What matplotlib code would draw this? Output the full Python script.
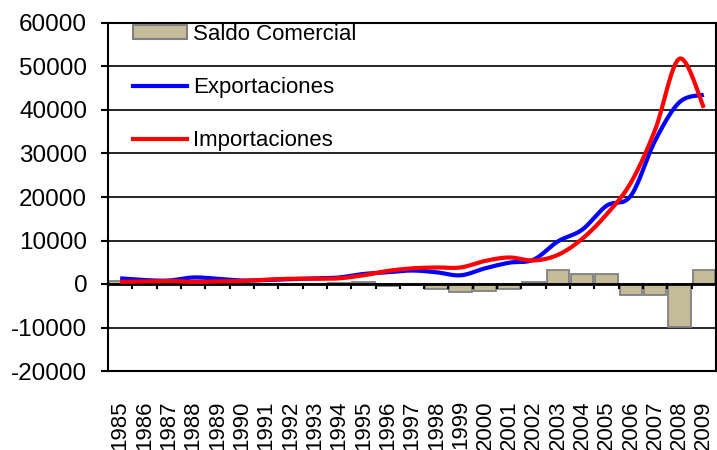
import numpy as np
import matplotlib
matplotlib.use("Agg")
import matplotlib.pyplot as plt
from matplotlib.lines import Line2D
from matplotlib.patches import Patch
from matplotlib.ticker import FuncFormatter

years = [str(y) for y in range(1985, 2010)]
exportaciones = [1300, 900, 800, 1500, 1200, 800, 900, 1100, 1300, 1500, 2300, 2700, 3100,
                 2700, 2000, 3600, 4900, 5600, 9800, 12500, 18000, 20300, 33000, 41800, 43500]
importaciones = [500, 600, 700, 500, 600, 700, 1000, 1200, 1200, 1300, 2000, 3000, 3600,
                 3800, 3800, 5300, 6100, 5400, 6700, 10400, 16000, 23300, 35500, 51800, 40500]
saldo = [800, 200, 100, 800, 500, 100, -100, -200, 100, 200, 400, -400, -300,
         -1200, -1800, -1700, -1200, 400, 3300, 2300, 2200, -2600, -2600, -9900, 3300]

plt.rcParams['font.family'] = ['Liberation Sans', 'DejaVu Sans']
plt.rcParams['axes.unicode_minus'] = False

def smooth(xs, ys, n=30):
    xs = np.asarray(xs, float); ys = np.asarray(ys, float)
    px, py = [], []
    N = len(xs)
    for i in range(N - 1):
        i0 = max(i - 1, 0); i3 = min(i + 2, N - 1)
        p0 = np.array([xs[i0], ys[i0]]); p1 = np.array([xs[i], ys[i]])
        p2 = np.array([xs[i + 1], ys[i + 1]]); p3 = np.array([xs[i3], ys[i3]])
        c1 = p1 + (p2 - p0) / 6.0
        c2 = p2 - (p3 - p1) / 6.0
        t = np.linspace(0, 1, n, endpoint=(i == N - 2))[:, None]
        pts = (1 - t) ** 3 * p1 + 3 * (1 - t) ** 2 * t * c1 + 3 * (1 - t) * t ** 2 * c2 + t ** 3 * p2
        px.extend(pts[:, 0]); py.extend(pts[:, 1])
    return np.array(px), np.array(py)

fig = plt.figure(figsize=(7.17, 4.5), dpi=100)
ax = fig.add_axes([108 / 717, 1 - 371 / 450, (716 - 108) / 717, (371 - 23) / 450])

x = np.arange(len(years))
ax.set_xlim(-0.5, len(years) - 0.5)
ax.set_ylim(-20000, 60000)

for yv in range(-20000, 60001, 10000):
    ax.axhline(yv, color='black', lw=1.2, zorder=1)

ax.bar(x, saldo, width=0.92, color='#C4BC98', edgecolor='#808080', linewidth=1.3, zorder=2)

ax.axhline(0, color='black', lw=2, zorder=3)
for b in np.arange(len(years) + 1) - 0.5:
    ax.plot([b, b], [0, -900], color='black', lw=1.5, zorder=3, clip_on=False)

sx, sy = smooth(x, exportaciones)
ax.plot(sx, sy, color='#0000FF', lw=3, zorder=4, solid_capstyle='butt')
sx, sy = smooth(x, importaciones)
ax.plot(sx, sy, color='#FF0000', lw=3, zorder=5, solid_capstyle='butt')

for s in ax.spines.values():
    s.set_color('black'); s.set_linewidth(1.5)

ax.set_yticks(range(-20000, 60001, 10000))
ax.yaxis.set_major_formatter(FuncFormatter(lambda v, p: '%d' % v))
ax.tick_params(axis='y', direction='out', length=5, width=1.5, labelsize=17.5, pad=10)
ax.set_xticks(x)
ax.set_xticklabels(years, rotation=90, fontsize=16, va='top')
ax.tick_params(axis='x', length=0, pad=21)

handles = [Patch(facecolor='#C4BC98', edgecolor='#808080', linewidth=1.5),
           Line2D([], [], color='#0000FF', lw=3),
           Line2D([], [], color='#FF0000', lw=3)]
labels = ['Saldo Comercial', 'Exportaciones', 'Importaciones']
leg = ax.legend(handles, labels, loc='upper left', bbox_to_anchor=(0.041, 0.997),
                frameon=False, fontsize=16, handlelength=2.45, handleheight=0.55,
                handletextpad=0.25, labelspacing=1.45, borderaxespad=0, borderpad=0)
leg.set_zorder(6)

fig.savefig('out.png', dpi=100)
